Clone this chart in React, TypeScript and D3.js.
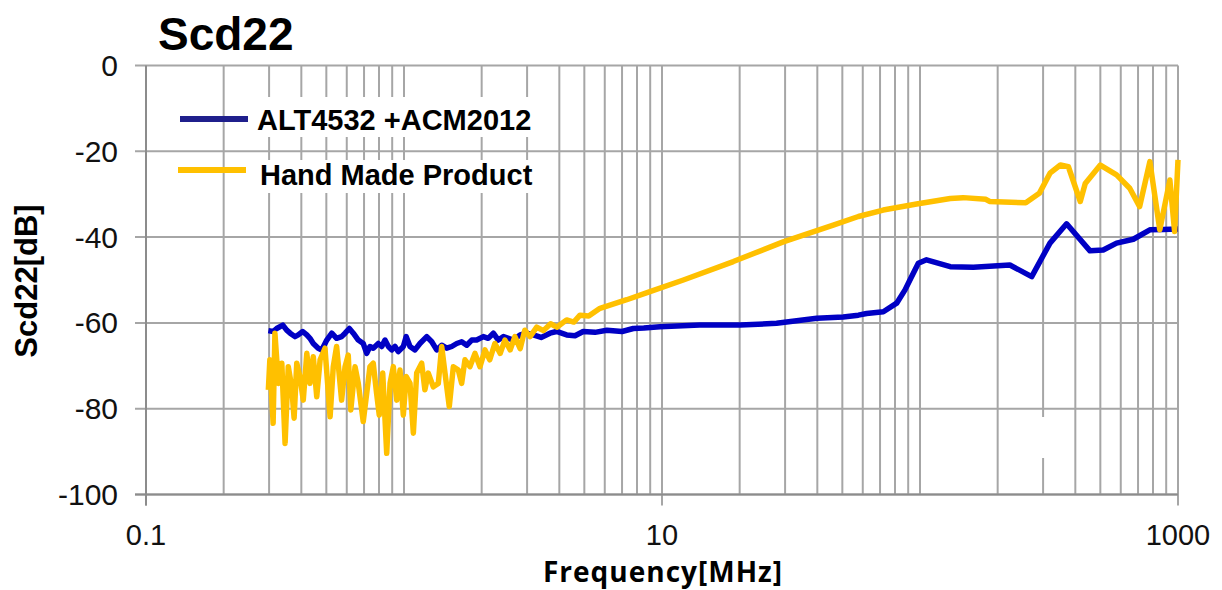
import { useEffect, useRef } from "react";
import * as d3 from "d3";

// ALT4532 +ACM2012 (blue)
const blueFreq = [
  0.298, 0.311, 0.321, 0.339, 0.351, 0.362, 0.378, 0.389, 0.405, 0.42, 0.432, 0.445, 0.465, 0.48,
  0.502, 0.525, 0.548, 0.573, 0.591, 0.614, 0.636, 0.665, 0.695, 0.717, 0.738, 0.76, 0.795, 0.82,
  0.844, 0.87, 0.896, 0.923, 0.95, 0.994, 1.02, 1.055, 1.103, 1.153, 1.225, 1.281, 1.339, 1.4,
  1.464, 1.531, 1.601, 1.673, 1.75, 1.83, 1.913, 2.03, 2.12, 2.22, 2.32, 2.43, 2.54, 2.65, 2.82,
  2.99, 3.17, 3.4, 3.68, 3.9, 4.27, 4.6, 4.95, 5.5, 6.11, 7.0, 7.74, 8.5, 9.82, 14.0, 20.1, 27.8,
  39.8, 50.4, 57.7, 62.1, 72.1, 81.2, 87.5, 91.4, 98.5, 106, 131, 161, 223, 271, 319, 370, 456,
  513, 578, 671, 778, 875, 1000,
];
const blueDb = [
  -61.8, -62.0, -61.3, -60.5, -61.7, -62.4, -63.2, -62.8, -62.0, -62.8, -63.6, -64.8, -65.9, -66.3,
  -64.0, -62.4, -63.6, -63.2, -62.4, -61.3, -62.4, -64.0, -64.8, -67.1, -65.5, -65.9, -64.8, -65.5,
  -64.0, -65.5, -66.3, -65.5, -66.7, -65.5, -63.2, -65.5, -66.3, -64.8, -63.2, -64.4, -66.3, -65.2,
  -65.9, -65.5, -64.8, -64.4, -65.2, -64.0, -64.0, -63.2, -63.6, -62.4, -64.0, -63.2, -63.6, -64.0, -62.8,
  -62.4, -62.8, -63.4, -62.4, -62.0, -62.8, -63.0, -62.0, -62.2, -61.7, -62.0, -61.3, -61.2, -60.9, -60.5, -60.5, -60.1,
  -58.9, -58.6, -58.2, -57.8, -57.4, -55.4, -52.3, -50.0, -46.1, -45.3, -46.9, -47.0, -46.5, -49.2, -41.4, -36.9, -43.2,
  -43.0, -41.4, -40.5, -38.3, -38.2, -38.1,
];

// Hand Made Product (yellow)
const yellowFreq = [
  0.298, 0.302, 0.311, 0.316, 0.326, 0.336, 0.346, 0.356, 0.367, 0.375, 0.384, 0.395, 0.407, 0.42,
  0.432, 0.445, 0.459, 0.473, 0.494, 0.517, 0.532, 0.548, 0.573, 0.591, 0.608, 0.622, 0.646, 0.665,
  0.695, 0.717, 0.738, 0.76, 0.783, 0.802, 0.827, 0.857, 0.883, 0.909, 0.937, 0.965, 0.994, 1.02,
  1.055, 1.087, 1.12, 1.171, 1.205, 1.242, 1.299, 1.358, 1.4, 1.442, 1.498, 1.553, 1.624, 1.673,
  1.723, 1.802, 1.884, 1.97, 2.06, 2.15, 2.25, 2.36, 2.46, 2.58, 2.69, 2.82, 2.94, 3.08, 3.27, 3.47,
  3.7, 3.91, 4.27, 4.55, 4.81, 5.2, 5.75, 7.3, 8.98, 12.1, 18.9, 29.5, 46.1, 57.7, 72, 97, 131, 147,
  180, 186, 257, 290, 319, 350, 376, 418, 437, 500, 578, 650, 710, 778, 850, 930, 970, 1000,
];
const yellowDb = [
  -75.6, -68.6, -83.4, -62.4, -74.1, -69.4, -88.1, -70.2, -74.9, -82.2, -69.4, -72.5, -78.0, -67.1,
  -74.1, -67.9, -77.2, -68.6, -65.9, -81.9, -70.2, -65.5, -78.0, -70.2, -67.5, -80.3, -70.2, -74.1,
  -83.0, -76.4, -70.2, -69.4, -76.4, -81.5, -71.7, -90.4, -74.1, -70.2, -78.0, -71.0, -81.5, -72.5,
  -74.1, -85.7, -71.7, -69.4, -75.6, -71.7, -74.9, -74.1, -65.5, -71.7, -79.5, -70.2, -71.0, -74.1,
  -68.6, -70.2, -67.1, -70.2, -66.3, -68.6, -64.8, -67.1, -64.0, -66.3, -63.2, -66.0, -61.7, -63.2, -61.0, -61.8,
  -60.2, -61.0, -59.3, -59.8, -58.2, -58.4, -56.6, -54.6, -52.7, -50.0, -45.7, -41.1, -37.2, -35.2, -33.7, -32.3, -31.0, -30.8,
  -31.2, -31.7, -32.0, -29.8, -25.1, -23.2, -23.6, -31.7, -27.5, -23.2, -25.5, -28.6, -32.9, -22.4, -38.3, -26.7, -38.7, -22.0,
];

const yTicks = [0, -20, -40, -60, -80, -100];
const xLabels = [0.1, 10, 1000];

export default function App() {
  const ref = useRef<HTMLDivElement>(null);

  useEffect(() => {
    const root = d3.select(ref.current);
    root.select("svg").remove();

    const width = 1222;
    const height = 590;

    const x = d3.scaleLog().domain([0.1, 1000]).range([146, 1178]);
    const y = d3.scaleLinear().domain([-100, 0]).range([494.5, 65.5]);

    const svg = root
      .append("svg")
      .attr("width", width)
      .attr("height", height)
      .style("display", "block")
      .style("font-family", "'Liberation Sans', Arial, sans-serif");

    const grid = "#a6a6a6";

    // vertical grid lines (log decades and minors)
    const vTicks: number[] = [];
    [0.1, 1, 10, 100].forEach((dec) => {
      for (let k = 1; k < 10; k++) vTicks.push(dec * k);
    });
    vTicks.push(1000);

    svg
      .append("g")
      .selectAll("line")
      .data(vTicks)
      .enter()
      .append("line")
      .attr("x1", (d) => x(d))
      .attr("x2", (d) => x(d))
      .attr("y1", y(0))
      .attr("y2", (d) => (xLabels.includes(d) ? y(-100) + 11 : y(-100)))
      .attr("stroke", grid)
      .attr("stroke-width", 2);

    // horizontal grid lines
    svg
      .append("g")
      .selectAll("line")
      .data(yTicks)
      .enter()
      .append("line")
      .attr("x1", x(0.1) - 11)
      .attr("x2", x(1000))
      .attr("y1", (d) => y(d))
      .attr("y2", (d) => y(d))
      .attr("stroke", grid)
      .attr("stroke-width", 2);

    // axis lines
    svg
      .append("line")
      .attr("x1", x(0.1))
      .attr("x2", x(0.1))
      .attr("y1", y(0))
      .attr("y2", y(-100) + 11)
      .attr("stroke", "#8c8c8c")
      .attr("stroke-width", 2);
    svg
      .append("line")
      .attr("x1", x(0.1) - 11)
      .attr("x2", x(1000))
      .attr("y1", y(-100))
      .attr("y2", y(-100))
      .attr("stroke", "#8c8c8c")
      .attr("stroke-width", 2);

    // white patches behind legend text and a small blank in the grid
    svg.append("rect").attr("x", 250).attr("y", 97).attr("width", 292).attr("height", 40).attr("fill", "#fff");
    svg.append("rect").attr("x", 250).attr("y", 160).attr("width", 292).attr("height", 33).attr("fill", "#fff");
    svg.append("rect").attr("x", 1039).attr("y", 417).attr("width", 8).attr("height", 41).attr("fill", "#fff");

    const line = d3
      .line<[number, number]>()
      .x((d) => x(d[0]))
      .y((d) => y(d[1]));

    const blue: [number, number][] = blueFreq.map((f, i) => [f, blueDb[i]]);
    const yellow: [number, number][] = yellowFreq.map((f, i) => [f, yellowDb[i]]);

    svg
      .append("path")
      .attr("d", line(blue))
      .attr("fill", "none")
      .attr("stroke", "#0000c4")
      .attr("stroke-width", 5.5)
      .attr("stroke-linejoin", "round");

    svg
      .append("path")
      .attr("d", line(yellow))
      .attr("fill", "none")
      .attr("stroke", "#ffc000")
      .attr("stroke-width", 5.5)
      .attr("stroke-linejoin", "round");

    // y tick labels
    svg
      .append("g")
      .selectAll("text")
      .data(yTicks)
      .enter()
      .append("text")
      .attr("x", 118)
      .attr("y", (d) => y(d) + 10.5)
      .attr("text-anchor", "end")
      .attr("font-size", "30px")
      .attr("fill", "#111")
      .text((d) => d);

    // x tick labels
    svg
      .append("g")
      .selectAll("text")
      .data(xLabels)
      .enter()
      .append("text")
      .attr("x", (d) => x(d))
      .attr("y", 545)
      .attr("text-anchor", "middle")
      .attr("font-size", "29px")
      .attr("fill", "#111")
      .text((d) => d);

    // title
    svg
      .append("text")
      .attr("x", 158)
      .attr("y", 50)
      .attr("font-size", "46px")
      .attr("font-weight", "bold")
      .attr("fill", "#000")
      .text("Scd22");

    // axis titles
    svg
      .append("text")
      .attr("x", 663)
      .attr("y", 582)
      .attr("text-anchor", "middle")
      .attr("font-family", "'Open Sans', sans-serif")
      .attr("font-size", "28px")
      .attr("font-weight", "bold")
      .attr("letter-spacing", "1px")
      .attr("fill", "#000")
      .text("Frequency[MHz]");

    svg
      .append("text")
      .attr("transform", "translate(37,281) rotate(-90)")
      .attr("text-anchor", "middle")
      .attr("font-size", "31px")
      .attr("font-weight", "bold")
      .attr("fill", "#000")
      .text("Scd22[dB]");

    // legend
    const legend = [
      { name: "ALT4532 +ACM2012", color: "#1f1f8c", x1: 180, x2: 248, ly: 119, tx: 257, ty: 130 },
      { name: "Hand Made Product", color: "#ffc000", x1: 178, x2: 246, ly: 170, tx: 260, ty: 185 },
    ];
    const lg = svg.append("g").selectAll("g").data(legend).enter().append("g");
    lg.append("line")
      .attr("x1", (d) => d.x1)
      .attr("x2", (d) => d.x2)
      .attr("y1", (d) => d.ly)
      .attr("y2", (d) => d.ly)
      .attr("stroke", (d) => d.color)
      .attr("stroke-width", 6);
    lg.append("text")
      .attr("x", (d) => d.tx)
      .attr("y", (d) => d.ty)
      .attr("font-size", "29px")
      .attr("font-weight", "bold")
      .attr("fill", "#000")
      .text((d) => d.name);
  }, []);

  return <div ref={ref} style={{ position: "absolute", left: 0, top: 0 }}></div>;
}
